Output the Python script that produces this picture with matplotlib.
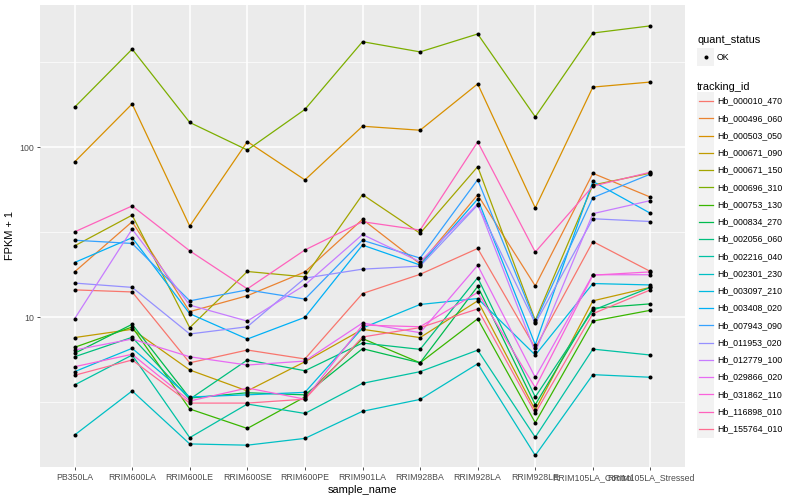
import matplotlib
matplotlib.use("Agg")
import matplotlib.pyplot as plt
from matplotlib.patches import Rectangle
from matplotlib.lines import Line2D

plt.rcParams["font.family"] = ["Liberation Sans", "DejaVu Sans"]

samples = ["PB350LA", "RRIM600LA", "RRIM600LE", "RRIM600SE", "RRIM600PE",
           "RRIM901LA", "RRIM928BA", "RRIM928LA", "RRIM928LE",
           "RRIM105LA_Control", "RRIM105LA_Stressed"]

tracking_ids = ["Hb_000010_470", "Hb_000496_060", "Hb_000503_050", "Hb_000671_090",
                "Hb_000671_150", "Hb_000696_310", "Hb_000753_130", "Hb_000834_270",
                "Hb_002056_060", "Hb_002216_040", "Hb_002301_230", "Hb_003097_210",
                "Hb_003408_020", "Hb_007943_090", "Hb_011953_020", "Hb_012779_100",
                "Hb_029866_020", "Hb_031862_110", "Hb_116898_010", "Hb_155764_010"]

# ggplot hue palette, 20 levels
colors = ["#F8766D", "#EA8331", "#D89000", "#C09B00", "#A3A500", "#7CAE00",
          "#39B600", "#00BB4E", "#00BF7D", "#00C1A3", "#00BFC4", "#00BAE0",
          "#00B0F6", "#35A2FF", "#9590FF", "#C77CFF", "#E76BF3", "#FA62DB",
          "#FF62BC", "#FF6C91"]

# FPKM + 1, one list per tracking_id, in sample order
fpkm = {
    "Hb_000010_470": [14.5, 14.1, 5.4, 6.42, 5.69, 13.8, 17.9, 25.4, 6.6, 27.9, 18.6],
    "Hb_000496_060": [18.5, 36.5, 10.8, 13.4, 18.5, 37.7, 20.6, 52.5, 15.3, 70.3, 50.9],
    "Hb_000503_050": [82, 180, 34.4, 108, 64.3, 133, 126, 236, 44, 226, 242],
    "Hb_000671_090": [7.6, 8.5, 4.9, 3.69, 5.48, 8.5, 7.6, 12.5, 2.85, 12.5, 15.0],
    "Hb_000671_150": [26.3, 39.9, 8.69, 18.6, 17.3, 52.7, 31.2, 76.9, 9.6, 60.0, 70.5],
    "Hb_000696_310": [172, 378, 140, 96.4, 167, 418, 364, 464, 151, 470, 518],
    "Hb_000753_130": [6.66, 8.77, 2.89, 2.22, 3.40, 7.5, 5.4, 9.8, 2.40, 9.5, 11.0],
    "Hb_000834_270": [6.14, 9.1, 3.35, 3.6, 3.5, 6.54, 5.4, 15.2, 3.06, 11.3, 12.0],
    "Hb_002056_060": [5.86, 7.63, 3.3, 5.61, 4.85, 7.06, 6.48, 17.1, 3.40, 11.0, 15.0],
    "Hb_002216_040": [4.0, 6.0, 1.96, 3.09, 2.72, 4.09, 4.79, 6.41, 1.97, 6.5, 6.0],
    "Hb_002301_230": [2.03, 3.69, 1.80, 1.77, 1.94, 2.80, 3.29, 5.33, 1.54, 4.6, 4.44],
    "Hb_003097_210": [4.79, 6.57, 3.40, 3.5, 3.62, 8.65, 11.9, 12.9, 6.0, 15.8, 15.5],
    "Hb_003408_020": [21.0, 29.4, 10.5, 7.45, 10.0, 26.6, 20.3, 49.6, 6.9, 63.0, 40.9],
    "Hb_007943_090": [28.4, 27.2, 12.5, 14.5, 12.8, 28.4, 22.3, 64.5, 9.4, 50.6, 69.6],
    "Hb_011953_020": [15.9, 15.0, 7.98, 8.8, 17.0, 19.2, 20.0, 45.8, 9.2, 38.0, 36.6],
    "Hb_012779_100": [9.8, 33.0, 11.8, 9.5, 15.5, 30.7, 21.2, 46.4, 6.25, 40.7, 48.6],
    "Hb_029866_020": [6.42, 7.45, 5.86, 5.24, 5.53, 9.26, 8.12, 20.2, 4.43, 17.8, 17.8],
    "Hb_031862_110": [5.12, 6.06, 3.22, 3.84, 3.3, 9.0, 8.8, 14.0, 3.86, 17.7, 18.5],
    "Hb_116898_010": [31.8, 45.2, 24.6, 14.7, 24.9, 36.5, 32.6, 107.6, 24.2, 59.1, 71.4],
    "Hb_155764_010": [4.56, 5.61, 3.13, 3.13, 3.3, 7.66, 8.7, 11.2, 2.73, 10.5, 14.5],
}

fig = plt.figure(figsize=(8, 5), dpi=100)
ax = fig.add_axes([40 / 800, 33 / 500, 645 / 800, 462 / 500])
ax.set_facecolor("#EBEBEB")

x = list(range(len(samples)))
for tid, col in zip(tracking_ids, colors):
    ax.plot(x, fpkm[tid], color=col, lw=0.9, zorder=2)
for tid in tracking_ids:
    ax.plot(x, fpkm[tid], "o", color="black", ms=2.9, mew=0, zorder=3)

ax.set_yscale("log")
ax.set_ylim(1.317, 687)
ax.set_xlim(-0.6, len(samples) - 0.4)
ax.set_xticks(x)
ax.set_xticklabels(samples)
ax.set_yticks([10, 100])
ax.set_yticklabels(["10", "100"])
ax.set_yticks([3.162, 31.62, 316.2], minor=True)
ax.yaxis.set_minor_formatter(plt.NullFormatter())

ax.grid(True, which="major", color="white", lw=1.1, zorder=0)
ax.grid(True, which="minor", axis="y", color="white", lw=0.5, zorder=0)
ax.set_axisbelow(True)
for s in ax.spines.values():
    s.set_visible(False)
ax.tick_params(which="major", length=2.5, width=0.6, color="#333333",
               labelsize=6.3, labelcolor="#4D4D4D", pad=2)
ax.tick_params(which="minor", length=0)

ax.set_xlabel("sample_name", fontsize=7.9, labelpad=2)
ax.set_ylabel("FPKM + 1", fontsize=7.9, labelpad=3)

# legends drawn in pixel coordinates (ggplot style keys)
def fx(px):
    return px / 800

def fy(py):
    return 1 - py / 500

fig.text(fx(697), fy(40), "quant_status", fontsize=7.9, va="center")
fig.patches.append(Rectangle((fx(697), fy(57 + 8.6)), 17.3 / 800, 17.3 / 500,
                             transform=fig.transFigure, color="#F2F2F2", lw=0))
fig.lines.append(Line2D([fx(705.6)], [fy(57)], marker="o", color="black", ms=2.9,
                        mew=0, transform=fig.transFigure))
fig.text(fx(717), fy(57), "OK", fontsize=6.3, va="center")

fig.text(fx(697), fy(87), "tracking_id", fontsize=7.9, va="center")
for i, (tid, col) in enumerate(zip(tracking_ids, colors)):
    yc = 101 + i * 17.26
    fig.patches.append(Rectangle((fx(697), fy(yc + 8.6)), 17.3 / 800, 17.3 / 500,
                                 transform=fig.transFigure, color="#F2F2F2", lw=0))
    fig.lines.append(Line2D([fx(699), fx(712.5)], [fy(yc), fy(yc)], color=col, lw=0.9,
                            transform=fig.transFigure))
    fig.text(fx(717), fy(yc), tid, fontsize=6.3, va="center")

fig.savefig("out.png", dpi=100, facecolor="white")
